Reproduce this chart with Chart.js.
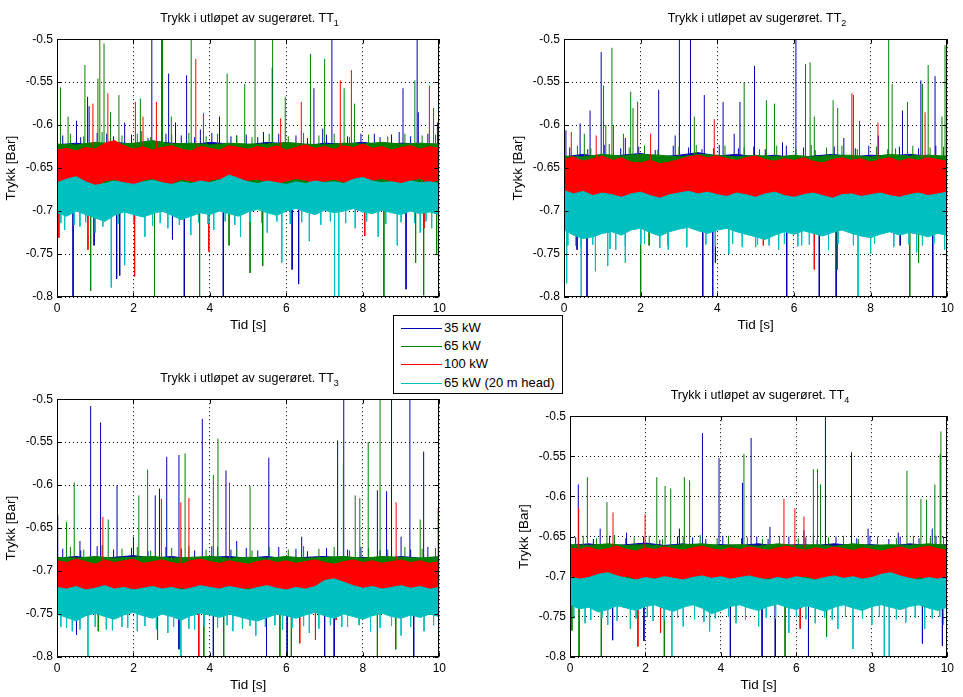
<!DOCTYPE html>
<html>
<head>
<meta charset="utf-8">
<script src="https://cdn.jsdelivr.net/npm/chart.js"></script>
<style>
  body { margin: 0; background: #fff; width: 963px; height: 697px; overflow: hidden; position: relative; font-family: "Liberation Sans", Arial, sans-serif; }
  .panel { position: absolute; }
  .ttl { position: absolute; text-align: center; font-size: 12.5px; line-height: 15px; color: #000; white-space: nowrap; }
  .ttl sub { font-size: 9px; }
  #legend { position: absolute; left: 393px; top: 315px; width: 168px; height: 77px; border: 1px solid #000; background: #fff; }
  .lg-row { position: absolute; left: 0; height: 16px; font-size: 13px; line-height: 16px; }
  .lg-line { position: absolute; left: 7px; top: 8px; width: 41px; height: 1px; }
  .lg-text { position: absolute; left: 50px; top: 0; white-space: nowrap; }
</style>
</head>
<body>
<div class="panel" style="left:0px;top:28px;"><canvas id="p1" width="450" height="307"></canvas></div>
<div class="panel" style="left:507px;top:28px;"><canvas id="p2" width="451" height="307"></canvas></div>
<div class="panel" style="left:0px;top:388px;"><canvas id="p3" width="450" height="307"></canvas></div>
<div class="panel" style="left:513px;top:405px;"><canvas id="p4" width="445" height="290"></canvas></div>

<div class="ttl" style="left:57px;top:11px;width:385px;">Trykk i utløpet av sugerøret. TT<sub>1</sub></div>
<div class="ttl" style="left:564px;top:11px;width:386px;">Trykk i utløpet av sugerøret. TT<sub>2</sub></div>
<div class="ttl" style="left:57px;top:371px;width:385px;">Trykk i utløpet av sugerøret. TT<sub>3</sub></div>
<div class="ttl" style="left:570px;top:388px;width:380px;">Trykk i utløpet av sugerøret. TT<sub>4</sub></div>

<div id="legend"></div>

<script>
// series names / colours (same order as the matlab plot calls)
const seriesNames = ['35 kW', '65 kW', '100 kW', '65 kW (20 m head)'];
const seriesColors = ['#0000b4', '#008000', '#ff0000', '#00bfbf'];

const xTicks = [0, 2, 4, 6, 8, 10];
const yTicks = [-0.8, -0.75, -0.7, -0.65, -0.6, -0.55, -0.5];

// sample times for the band envelopes [s]
const times41 = [0, 0.25, 0.5, 0.75, 1, 1.25, 1.5, 1.75, 2, 2.25, 2.5, 2.75, 3, 3.25, 3.5, 3.75, 4, 4.25, 4.5, 4.75, 5,
    5.25, 5.5, 5.75, 6, 6.25, 6.5, 6.75, 7, 7.25, 7.5, 7.75, 8, 8.25, 8.5, 8.75, 9, 9.25, 9.5, 9.75, 10];
const times21 = [0, 0.5, 1, 1.5, 2, 2.5, 3, 3.5, 4, 4.5, 5, 5.5, 6, 6.5, 7, 7.5, 8, 8.5, 9, 9.5, 10];
const noGrass = [];

// ---------- TT1 ----------
const tt1BlueTop = [-0.623,-0.621,-0.624,-0.620,-0.622,-0.619,-0.621,-0.623,-0.620,-0.622,
    -0.623,-0.620,-0.622,-0.624,-0.621,-0.622,-0.620,-0.623,-0.621,-0.622, -0.623];
const tt1BlueBot = [-0.670,-0.674,-0.671,-0.676,-0.672,-0.670,-0.674,-0.671,-0.673,-0.670,
    -0.672,-0.675,-0.671,-0.673,-0.670,-0.672,-0.674,-0.671,-0.673,-0.670, -0.672];
const tt1GreenTop = [-0.622,-0.623,-0.620,-0.622,-0.621,-0.618,-0.622,-0.621,-0.623,-0.621,
    -0.622,-0.622,-0.620,-0.622,-0.623,-0.621,-0.622,-0.620,-0.622,-0.621, -0.622];
const tt1GreenBot = [-0.672,-0.670,-0.674,-0.671,-0.673,-0.675,-0.671,-0.673,-0.670,-0.672,
    -0.674,-0.671,-0.673,-0.670,-0.672,-0.674,-0.671,-0.673,-0.670,-0.672, -0.671];
const tt1RedTop = [-0.629,-0.627,-0.630,-0.626,-0.628,-0.621,-0.618,-0.624,-0.628,-0.625,
    -0.629,-0.626,-0.624,-0.628,-0.630,-0.625,-0.627,-0.629,-0.624,-0.626,
    -0.628,-0.625,-0.627,-0.624,-0.629,-0.626,-0.623,-0.627,-0.625,-0.628,
    -0.624,-0.626,-0.622,-0.627,-0.625,-0.629,-0.626,-0.624,-0.628,-0.625, -0.627];
const tt1RedBot = [-0.664,-0.666,-0.662,-0.670,-0.672,-0.665,-0.663,-0.667,-0.670,-0.664,
    -0.662,-0.666,-0.668,-0.663,-0.665,-0.667,-0.664,-0.662,-0.666,-0.669,
    -0.664,-0.663,-0.666,-0.668,-0.665,-0.662,-0.664,-0.667,-0.665,-0.663,
    -0.666,-0.670,-0.668,-0.664,-0.662,-0.665,-0.667,-0.664,-0.662,-0.666, -0.664];
const tt1CyanTop = [-0.667,-0.663,-0.660,-0.666,-0.670,-0.668,-0.665,-0.667,-0.669,-0.666,
    -0.664,-0.667,-0.669,-0.666,-0.668,-0.665,-0.667,-0.664,-0.658,-0.662,
    -0.666,-0.668,-0.665,-0.667,-0.669,-0.666,-0.668,-0.665,-0.667,-0.666,
    -0.668,-0.663,-0.661,-0.665,-0.667,-0.666,-0.668,-0.665,-0.667,-0.666, -0.668];
const tt1CyanBot = [-0.702,-0.706,-0.700,-0.704,-0.708,-0.712,-0.705,-0.701,-0.704,-0.707,
    -0.703,-0.700,-0.705,-0.710,-0.706,-0.702,-0.704,-0.700,-0.703,-0.706,
    -0.701,-0.698,-0.702,-0.705,-0.700,-0.697,-0.701,-0.704,-0.699,-0.702,
    -0.700,-0.697,-0.701,-0.703,-0.699,-0.702,-0.704,-0.700,-0.703,-0.701, -0.704];
// spikes: [time, peak value]
const tt1BlueSpikes = [[0.42,-0.8],[0.51,-0.595],[0.80,-0.567],[0.84,-0.578],[0.97,-0.74],[1.30,-0.61],[1.56,-0.779],
    [1.64,-0.775],[1.77,-0.597],[2.20,-0.607],[2.48,-0.5],[2.74,-0.5],[2.92,-0.54],[3.02,-0.733],[3.10,-0.597],
    [3.33,-0.8],[3.39,-0.542],[3.75,-0.605],[4.25,-0.59],[4.35,-0.8],[4.70,-0.612],[5.40,-0.608],[5.63,-0.533],
    [6.15,-0.768],[6.32,-0.785],[6.72,-0.557],[6.95,-0.604],[7.19,-0.5],[8.30,-0.61],[8.95,-0.608],[9.05,-0.557],
    [9.13,-0.791],[9.42,-0.5],[9.45,-0.585],[9.95,-0.597]];
const tt1GreenSpikes = [[0.09,-0.556],[0.29,-0.59],[0.73,-0.53],[0.88,-0.793],[1.07,-0.546],[1.12,-0.5],[1.23,-0.505],
    [1.40,-0.585],[1.62,-0.565],[2.18,-0.569],[2.55,-0.8],[2.76,-0.5],[2.99,-0.59],[3.51,-0.5],[3.73,-0.8],[4.45,-0.54],
    [4.50,-0.74],[4.91,-0.552],[5.05,-0.772],[5.18,-0.5],[5.38,-0.764],[5.64,-0.5],[5.97,-0.567],[6.63,-0.517],
    [7.00,-0.523],[7.51,-0.557],[7.78,-0.575],[8.55,-0.8],[9.36,-0.548],[9.38,-0.76],[9.59,-0.798],[9.85,-0.58],[9.93,-0.75]];
const tt1RedSpikes = [[0.05,-0.731],[0.81,-0.745],[0.94,-0.575],[1.33,-0.563],[2.03,-0.776],[2.05,-0.573],[2.25,-0.59],
    [2.60,-0.573],[3.63,-0.523],[3.83,-0.586],[3.97,-0.747],[5.85,-0.592],[6.39,-0.573],[7.41,-0.548],[7.70,-0.536],
    [8.05,-0.729],[9.60,-0.72],[9.74,-0.554]];
const tt1CyanSpikes = [[0.20,-0.722],[0.60,-0.718],[1.00,-0.725],[1.42,-0.789],[1.77,-0.763],[2.30,-0.73],[2.90,-0.72],
    [3.50,-0.728],[4.10,-0.722],[4.80,-0.73],[5.50,-0.725],[5.88,-0.76],[6.60,-0.735],[7.26,-0.8],[7.37,-0.8],
    [7.80,-0.72],[8.40,-0.73],[8.90,-0.74],[9.50,-0.725],[9.80,-0.72]];
// small spikes along the band edges
const tt1BlueGrass = [[0.15,-0.612],[0.62,-0.614],[1.05,-0.609],[1.48,-0.613],[1.95,-0.611],[2.38,-0.615],[2.85,-0.61],
    [3.25,-0.612],[3.60,-0.614],[4.05,-0.609],[4.55,-0.613],[4.95,-0.611],[5.25,-0.614],[5.80,-0.61],[6.25,-0.612],
    [6.55,-0.615],[7.05,-0.611],[7.60,-0.613],[7.95,-0.61],[8.45,-0.614],[8.75,-0.611],[9.25,-0.613],[9.70,-0.61]];
const tt1GreenGrass = [[0.35,-0.61],[0.70,-0.613],[1.18,-0.608],[1.70,-0.612],[2.10,-0.61],[2.45,-0.614],[3.00,-0.611],
    [3.45,-0.609],[3.90,-0.613],[4.20,-0.61],[4.70,-0.612],[5.10,-0.614],[5.55,-0.61],[6.05,-0.613],[6.45,-0.609],
    [6.85,-0.612],[7.25,-0.61],[7.65,-0.614],[8.15,-0.611],[8.65,-0.613],[9.10,-0.61],[9.55,-0.612],[9.90,-0.611]];
const tt1CyanGrass = [[0.10,-0.714],[0.45,-0.716],[0.75,-0.713],[1.20,-0.718],[1.60,-0.715],[2.00,-0.713],[2.50,-0.717],
    [2.70,-0.714],[3.20,-0.716],[3.70,-0.713],[3.95,-0.715],[4.40,-0.712],[4.65,-0.716],[5.05,-0.713],[5.35,-0.714],
    [5.75,-0.712],[6.10,-0.715],[6.40,-0.713],[6.90,-0.716],[7.15,-0.712],[7.55,-0.714],[8.10,-0.712],[8.60,-0.715],
    [9.00,-0.713],[9.35,-0.714],[9.65,-0.712]];
const tt1Base = [-0.645, -0.645, -0.645, -0.685];

// ---------- TT2 ----------
const tt2BlueTop = [-0.637,-0.634,-0.638,-0.635,-0.633,-0.637,-0.635,-0.632,-0.636,-0.634,
    -0.637,-0.635,-0.638,-0.636,-0.634,-0.637,-0.635,-0.636,-0.634,-0.636, -0.638];
const tt2BlueBot = [-0.683,-0.685,-0.682,-0.686,-0.684,-0.683,-0.685,-0.682,-0.684,-0.683,
    -0.685,-0.686,-0.683,-0.684,-0.682,-0.684,-0.685,-0.683,-0.684,-0.682, -0.684];
const tt2GreenTop = [-0.636,-0.637,-0.634,-0.636,-0.634,-0.635,-0.637,-0.634,-0.635,-0.637,
    -0.635,-0.637,-0.635,-0.637,-0.635,-0.635,-0.637,-0.634,-0.636,-0.635, -0.636];
const tt2GreenBot = [-0.684,-0.683,-0.685,-0.682,-0.684,-0.686,-0.683,-0.685,-0.682,-0.684,
    -0.685,-0.683,-0.684,-0.682,-0.684,-0.685,-0.683,-0.684,-0.682,-0.684, -0.683];
const tt2RedTop = [-0.640,-0.637,-0.642,-0.639,-0.636,-0.641,-0.638,-0.643,-0.644,-0.641,
    -0.645,-0.643,-0.640,-0.637,-0.635,-0.638,-0.636,-0.639,-0.641,-0.638,
    -0.636,-0.640,-0.642,-0.639,-0.641,-0.638,-0.642,-0.644,-0.640,-0.638,
    -0.641,-0.639,-0.643,-0.640,-0.638,-0.642,-0.639,-0.641,-0.638,-0.640, -0.642];
const tt2RedBot = [-0.676,-0.680,-0.678,-0.682,-0.679,-0.684,-0.686,-0.681,-0.678,-0.683,
    -0.687,-0.682,-0.679,-0.677,-0.681,-0.678,-0.680,-0.683,-0.679,-0.681,
    -0.684,-0.680,-0.678,-0.682,-0.685,-0.681,-0.679,-0.683,-0.687,-0.682,
    -0.680,-0.684,-0.681,-0.679,-0.683,-0.686,-0.682,-0.680,-0.684,-0.681, -0.679];
const tt2CyanTop = [-0.676,-0.680,-0.677,-0.682,-0.679,-0.681,-0.684,-0.680,-0.678,-0.682,
    -0.685,-0.681,-0.679,-0.677,-0.680,-0.678,-0.681,-0.683,-0.679,-0.681,
    -0.684,-0.680,-0.678,-0.682,-0.684,-0.681,-0.679,-0.682,-0.685,-0.681,
    -0.680,-0.683,-0.681,-0.679,-0.682,-0.684,-0.681,-0.679,-0.682,-0.680, -0.678];
const tt2CyanBot = [-0.722,-0.728,-0.732,-0.730,-0.726,-0.724,-0.728,-0.722,-0.720,-0.725,
    -0.729,-0.724,-0.721,-0.719,-0.723,-0.726,-0.722,-0.720,-0.724,-0.727,
    -0.730,-0.733,-0.728,-0.724,-0.727,-0.723,-0.726,-0.729,-0.725,-0.722,
    -0.726,-0.729,-0.731,-0.727,-0.724,-0.728,-0.725,-0.727,-0.730,-0.726, -0.728];
const tt2BlueSpikes = [[0.05,-0.606],[0.34,-0.745],[0.42,-0.598],[0.60,-0.8],[0.68,-0.583],[0.97,-0.515],[1.60,-0.615],
    [2.47,-0.559],[2.90,-0.612],[3.01,-0.5],[3.30,-0.5],[3.62,-0.8],[3.66,-0.565],[3.88,-0.8],[3.95,-0.76],[4.15,-0.573],
    [4.44,-0.61],[4.59,-0.573],[4.97,-0.531],[5.70,-0.62],[5.81,-0.8],[6.05,-0.5],[6.66,-0.8],[7.10,-0.8],[7.30,-0.615],
    [8.20,-0.612],[8.77,-0.74],[8.83,-0.583],[9.31,-0.548],[9.62,-0.8],[9.68,-0.543]];
const tt2GreenSpikes = [[0.53,-0.61],[1.03,-0.554],[1.09,-0.6],[1.25,-0.51],[1.55,-0.61],[1.74,-0.561],[1.80,-0.58],
    [2.00,-0.8],[2.22,-0.74],[3.40,-0.59],[4.70,-0.55],[5.28,-0.571],[5.49,-0.575],[6.30,-0.529],[6.42,-0.527],
    [6.53,-0.59],[7.02,-0.571],[7.13,-0.768],[7.14,-0.58],[7.55,-0.565],[7.71,-0.595],[8.47,-0.5],[8.56,-0.552],
    [8.96,-0.573],[9.02,-0.8],[9.25,-0.76],[9.35,-0.552],[9.50,-0.53],[9.86,-0.59],[9.94,-0.507]];
const tt2RedSpikes = [[0.19,-0.608],[0.84,-0.612],[1.29,-0.6],[1.92,-0.573],[2.26,-0.61],[3.92,-0.593],[5.20,-0.74],
    [6.53,-0.768],[7.51,-0.563],[8.19,-0.597],[9.42,-0.585]];
const tt2CyanSpikes = [[0.07,-0.784],[0.30,-0.74],[0.45,-0.8],[0.82,-0.77],[1.14,-0.764],[1.35,-0.745],[1.60,-0.76],
    [2.10,-0.738],[2.72,-0.745],[3.20,-0.742],[4.30,-0.75],[5.00,-0.742],[5.60,-0.745],[6.20,-0.74],[6.90,-0.745],
    [7.67,-0.8],[8.00,-0.75],[8.60,-0.742],[9.20,-0.748],[9.93,-0.745]];
const tt2BlueGrass = [[0.15,-0.626],[0.62,-0.628],[1.05,-0.623],[1.48,-0.627],[1.95,-0.625],[2.38,-0.629],[2.85,-0.624],
    [3.25,-0.626],[3.60,-0.628],[4.05,-0.623],[4.55,-0.627],[4.95,-0.625],[5.25,-0.628],[5.80,-0.624],[6.25,-0.626],
    [6.55,-0.629],[7.05,-0.625],[7.60,-0.627],[7.95,-0.624],[8.45,-0.628],[8.75,-0.625],[9.25,-0.627],[9.70,-0.624]];
const tt2GreenGrass = [[0.35,-0.624],[0.70,-0.627],[1.18,-0.622],[1.70,-0.626],[2.10,-0.624],[2.45,-0.628],[3.00,-0.625],
    [3.45,-0.623],[3.90,-0.627],[4.20,-0.624],[4.70,-0.626],[5.10,-0.628],[5.55,-0.624],[6.05,-0.627],[6.45,-0.623],
    [6.85,-0.626],[7.25,-0.624],[7.65,-0.628],[8.15,-0.625],[8.65,-0.627],[9.10,-0.624],[9.55,-0.626],[9.90,-0.625]];
const tt2CyanGrass = [[0.10,-0.740],[0.45,-0.742],[0.75,-0.739],[1.20,-0.744],[1.60,-0.741],[2.00,-0.739],[2.50,-0.743],
    [2.70,-0.740],[3.20,-0.742],[3.70,-0.739],[3.95,-0.741],[4.40,-0.738],[4.65,-0.742],[5.05,-0.739],[5.35,-0.740],
    [5.75,-0.738],[6.10,-0.741],[6.40,-0.739],[6.90,-0.742],[7.15,-0.738],[7.55,-0.740],[8.10,-0.738],[8.60,-0.741],
    [9.00,-0.739],[9.35,-0.740],[9.65,-0.738]];
const tt2Base = [-0.66, -0.66, -0.66, -0.705];

// ---------- TT3 ----------
const tt3BlueTop = [-0.685,-0.683,-0.686,-0.684,-0.682,-0.685,-0.683,-0.686,-0.684,-0.683,
    -0.685,-0.683,-0.686,-0.684,-0.683,-0.685,-0.684,-0.686,-0.683,-0.685, -0.684];
const tt3BlueBot = [-0.724,-0.728,-0.725,-0.730,-0.726,-0.724,-0.728,-0.725,-0.727,-0.724,
    -0.726,-0.729,-0.725,-0.727,-0.724,-0.726,-0.728,-0.725,-0.727,-0.724, -0.726];
const tt3GreenTop = [-0.684,-0.685,-0.683,-0.685,-0.684,-0.683,-0.685,-0.684,-0.683,-0.685,
    -0.684,-0.685,-0.683,-0.685,-0.684,-0.683,-0.685,-0.683,-0.684,-0.685, -0.683];
const tt3GreenBot = [-0.726,-0.724,-0.728,-0.725,-0.727,-0.729,-0.725,-0.727,-0.724,-0.726,
    -0.728,-0.725,-0.727,-0.724,-0.726,-0.728,-0.725,-0.727,-0.724,-0.726, -0.725];
const tt3RedTop = [-0.688,-0.690,-0.686,-0.689,-0.692,-0.687,-0.690,-0.688,-0.686,-0.691,
    -0.689,-0.687,-0.690,-0.692,-0.688,-0.686,-0.689,-0.691,-0.688,-0.690,
    -0.692,-0.689,-0.687,-0.690,-0.688,-0.691,-0.689,-0.687,-0.690,-0.692,
    -0.689,-0.687,-0.690,-0.688,-0.691,-0.689,-0.687,-0.690,-0.688,-0.691, -0.689];
const tt3RedBot = [-0.720,-0.724,-0.722,-0.726,-0.723,-0.721,-0.725,-0.722,-0.720,-0.724,
    -0.726,-0.723,-0.721,-0.719,-0.723,-0.725,-0.722,-0.720,-0.724,-0.722,
    -0.719,-0.723,-0.725,-0.722,-0.724,-0.726,-0.723,-0.721,-0.719,-0.723,
    -0.725,-0.727,-0.723,-0.721,-0.724,-0.722,-0.720,-0.724,-0.726,-0.723, -0.725];
const tt3CyanTop = [-0.719,-0.721,-0.718,-0.722,-0.720,-0.717,-0.721,-0.719,-0.722,-0.720,
    -0.718,-0.721,-0.719,-0.722,-0.720,-0.717,-0.719,-0.721,-0.718,-0.720,
    -0.722,-0.719,-0.717,-0.720,-0.722,-0.719,-0.721,-0.718,-0.711,-0.709,
    -0.713,-0.717,-0.720,-0.718,-0.721,-0.719,-0.717,-0.720,-0.718,-0.721, -0.719];
const tt3CyanBot = [-0.750,-0.754,-0.758,-0.752,-0.749,-0.753,-0.756,-0.751,-0.748,-0.752,
    -0.755,-0.750,-0.753,-0.757,-0.752,-0.749,-0.751,-0.754,-0.750,-0.753,
    -0.756,-0.758,-0.754,-0.750,-0.752,-0.755,-0.751,-0.748,-0.752,-0.755,
    -0.750,-0.753,-0.756,-0.752,-0.749,-0.753,-0.755,-0.751,-0.754,-0.750, -0.753];
const tt3BlueSpikes = [[0.02,-0.635],[0.51,-0.774],[0.60,-0.665],[0.88,-0.508],[1.14,-0.527],[1.57,-0.6],[2.00,-0.66],
    [2.57,-0.612],[2.68,-0.604],[2.87,-0.567],[3.19,-0.565],[3.19,-0.791],[3.80,-0.523],[4.09,-0.8],[4.42,-0.583],
    [4.70,-0.665],[5.48,-0.8],[5.54,-0.568],[6.02,-0.8],[6.40,-0.66],[7.00,-0.8],[7.25,-0.8],[7.34,-0.548],[7.50,-0.5],
    [8.38,-0.606],[8.62,-0.607],[8.75,-0.5],[9.00,-0.66],[9.23,-0.5],[9.33,-0.8],[9.59,-0.561]];
const tt3GreenSpikes = [[0.25,-0.643],[0.45,-0.597],[1.08,-0.77],[1.34,-0.64],[2.14,-0.612],[2.37,-0.582],[2.63,-0.78],
    [3.35,-0.563],[3.84,-0.8],[4.09,-0.588],[4.21,-0.546],[4.36,-0.8],[5.05,-0.601],[5.83,-0.8],[6.13,-0.8],
    [7.49,-0.575],[7.80,-0.612],[7.92,-0.615],[8.14,-0.55],[8.38,-0.8],[8.45,-0.5],[8.86,-0.791],[9.50,-0.64]];
const tt3RedSpikes = [[1.20,-0.637],[2.73,-0.616],[3.24,-0.62],[3.45,-0.615],[3.71,-0.8],[4.51,-0.597],[6.35,-0.784],
    [6.76,-0.78],[7.30,-0.757],[7.91,-0.76],[8.87,-0.62],[9.97,-0.627]];
const tt3CyanSpikes = [[0.10,-0.765],[0.40,-0.77],[0.81,-0.8],[1.29,-0.768],[1.70,-0.765],[2.10,-0.77],[2.90,-0.772],
    [3.24,-0.8],[3.60,-0.768],[4.60,-0.77],[5.20,-0.775],[5.90,-0.768],[6.60,-0.772],[7.60,-0.765],[8.20,-0.77],
    [9.00,-0.775],[9.60,-0.77]];
const tt3BlueGrass = [[0.15,-0.674],[0.62,-0.676],[1.05,-0.671],[1.48,-0.675],[1.95,-0.673],[2.38,-0.677],[2.85,-0.672],
    [3.25,-0.674],[3.60,-0.676],[4.05,-0.671],[4.55,-0.675],[4.95,-0.673],[5.25,-0.676],[5.80,-0.672],[6.25,-0.674],
    [6.55,-0.677],[7.05,-0.673],[7.60,-0.675],[7.95,-0.672],[8.45,-0.676],[8.75,-0.673],[9.25,-0.675],[9.70,-0.672]];
const tt3GreenGrass = [[0.35,-0.672],[0.70,-0.675],[1.18,-0.670],[1.70,-0.674],[2.10,-0.672],[2.45,-0.676],[3.00,-0.673],
    [3.45,-0.671],[3.90,-0.675],[4.20,-0.672],[4.70,-0.674],[5.10,-0.676],[5.55,-0.672],[6.05,-0.675],[6.45,-0.671],
    [6.85,-0.674],[7.25,-0.672],[7.65,-0.676],[8.15,-0.673],[8.65,-0.675],[9.10,-0.672],[9.55,-0.674],[9.90,-0.673]];
const tt3CyanGrass = [[0.25,-0.766],[0.60,-0.768],[1.00,-0.765],[1.45,-0.769],[1.85,-0.766],[2.30,-0.764],[2.60,-0.768],
    [3.05,-0.765],[3.45,-0.767],[3.85,-0.764],[4.20,-0.766],[4.45,-0.763],[4.85,-0.767],[5.05,-0.764],[5.45,-0.765],
    [5.70,-0.763],[6.15,-0.766],[6.45,-0.764],[6.85,-0.767],[7.15,-0.763],[7.45,-0.765],[7.90,-0.763],[8.45,-0.766],
    [8.75,-0.764],[9.25,-0.765],[9.85,-0.763]];
const tt3Base = [-0.703, -0.703, -0.703, -0.74];

// ---------- TT4 ----------
const tt4BlueTop = [-0.661,-0.659,-0.662,-0.660,-0.658,-0.661,-0.659,-0.662,-0.660,-0.661,
    -0.659,-0.662,-0.660,-0.661,-0.659,-0.661,-0.660,-0.662,-0.659,-0.661, -0.660];
const tt4BlueBot = [-0.708,-0.712,-0.709,-0.714,-0.710,-0.708,-0.712,-0.709,-0.711,-0.708,
    -0.710,-0.713,-0.709,-0.711,-0.708,-0.710,-0.712,-0.709,-0.711,-0.708, -0.710];
const tt4GreenTop = [-0.660,-0.661,-0.659,-0.661,-0.660,-0.662,-0.660,-0.659,-0.661,-0.660,
    -0.662,-0.659,-0.661,-0.660,-0.662,-0.659,-0.661,-0.660,-0.661,-0.659, -0.661];
const tt4GreenBot = [-0.710,-0.708,-0.712,-0.709,-0.711,-0.713,-0.709,-0.711,-0.708,-0.710,
    -0.712,-0.709,-0.711,-0.708,-0.710,-0.712,-0.709,-0.711,-0.708,-0.710, -0.709];
const tt4RedTop = [-0.664,-0.666,-0.663,-0.667,-0.665,-0.662,-0.666,-0.668,-0.664,-0.666,
    -0.663,-0.665,-0.667,-0.664,-0.662,-0.665,-0.667,-0.664,-0.666,-0.663,
    -0.665,-0.667,-0.664,-0.662,-0.665,-0.667,-0.664,-0.666,-0.663,-0.665,
    -0.667,-0.664,-0.666,-0.668,-0.665,-0.663,-0.666,-0.664,-0.662,-0.665, -0.667];
const tt4RedBot = [-0.702,-0.705,-0.700,-0.704,-0.707,-0.702,-0.699,-0.703,-0.706,-0.701,
    -0.704,-0.708,-0.703,-0.700,-0.704,-0.706,-0.702,-0.705,-0.700,-0.703,
    -0.706,-0.701,-0.704,-0.707,-0.702,-0.699,-0.703,-0.706,-0.701,-0.704,
    -0.708,-0.703,-0.700,-0.704,-0.706,-0.702,-0.705,-0.700,-0.703,-0.706, -0.702];
const tt4CyanTop = [-0.700,-0.703,-0.701,-0.697,-0.695,-0.699,-0.702,-0.704,-0.701,-0.703,
    -0.700,-0.702,-0.704,-0.701,-0.699,-0.702,-0.700,-0.703,-0.701,-0.699,
    -0.702,-0.704,-0.701,-0.703,-0.700,-0.702,-0.704,-0.701,-0.699,-0.702,
    -0.700,-0.703,-0.701,-0.697,-0.695,-0.699,-0.702,-0.704,-0.701,-0.703, -0.700];
const tt4CyanBot = [-0.735,-0.740,-0.738,-0.744,-0.741,-0.736,-0.739,-0.742,-0.737,-0.735,
    -0.740,-0.743,-0.738,-0.735,-0.739,-0.746,-0.742,-0.737,-0.735,-0.739,
    -0.742,-0.737,-0.734,-0.738,-0.741,-0.736,-0.739,-0.743,-0.738,-0.735,
    -0.739,-0.742,-0.737,-0.735,-0.738,-0.741,-0.737,-0.735,-0.739,-0.742, -0.738];
const tt4BlueSpikes = [[0.22,-0.585],[0.80,-0.64],[1.13,-0.779],[1.50,-0.645],[1.96,-0.78],[2.90,-0.64],[3.51,-0.521],
    [3.95,-0.552],[4.25,-0.8],[4.57,-0.583],[4.80,-0.527],[5.09,-0.8],[5.30,-0.638],[5.44,-0.8],[6.20,-0.642],
    [6.32,-0.8],[6.77,-0.5],[7.46,-0.545],[7.90,-0.64],[8.70,-0.645],[9.34,-0.783],[9.60,-0.64],[9.87,-0.786]];
const tt4GreenSpikes = [[0.05,-0.767],[0.24,-0.8],[0.46,-0.576],[0.83,-0.8],[0.98,-0.607],[2.30,-0.576],[2.50,-0.8],
    [2.52,-0.587],[2.67,-0.59],[3.03,-0.576],[3.17,-0.58],[4.61,-0.547],[5.70,-0.8],[6.45,-0.566],[6.56,-0.566],
    [6.64,-0.585],[6.80,-0.775],[8.93,-0.568],[9.30,-0.603],[9.45,-0.604],[9.67,-0.585],[9.81,-0.547],[9.83,-0.519]];
const tt4RedSpikes = [[0.23,-0.614],[1.14,-0.62],[1.80,-0.787],[1.99,-0.622],[2.40,-0.77],[5.67,-0.603],[5.96,-0.615],
    [6.10,-0.765],[6.20,-0.625]];
const tt4CyanSpikes = [[0.40,-0.758],[1.00,-0.76],[1.60,-0.765],[2.20,-0.755],[2.70,-0.8],[3.00,-0.762],[3.70,-0.768],
    [4.40,-0.758],[5.00,-0.762],[5.80,-0.77],[6.50,-0.758],[7.10,-0.765],[7.50,-0.79],[8.00,-0.76],[8.33,-0.8],
    [8.46,-0.8],[8.90,-0.757],[9.40,-0.765],[9.90,-0.76]];
const tt4BlueGrass = [[0.15,-0.651],[0.62,-0.653],[1.05,-0.649],[1.48,-0.652],[1.95,-0.650],[2.38,-0.654],[2.85,-0.650],
    [3.25,-0.651],[3.60,-0.653],[4.05,-0.649],[4.55,-0.652],[4.95,-0.650],[5.25,-0.653],[5.80,-0.650],[6.25,-0.651],
    [6.55,-0.654],[7.05,-0.650],[7.60,-0.652],[7.95,-0.649],[8.45,-0.653],[8.75,-0.650],[9.25,-0.652],[9.70,-0.649]];
const tt4GreenGrass = [[0.35,-0.649],[0.70,-0.652],[1.18,-0.648],[1.70,-0.651],[2.10,-0.649],[2.45,-0.653],[3.00,-0.650],
    [3.45,-0.648],[3.90,-0.652],[4.20,-0.649],[4.70,-0.651],[5.10,-0.653],[5.55,-0.649],[6.05,-0.652],[6.45,-0.648],
    [6.85,-0.651],[7.25,-0.649],[7.65,-0.653],[8.15,-0.650],[8.65,-0.652],[9.10,-0.649],[9.55,-0.651],[9.90,-0.650]];
const tt4CyanGrass = [[0.10,-0.752],[0.55,-0.754],[0.85,-0.751],[1.25,-0.755],[1.75,-0.752],[2.05,-0.750],[2.50,-0.754],
    [2.85,-0.751],[3.30,-0.753],[3.55,-0.756],[3.85,-0.752],[4.20,-0.750],[4.65,-0.754],[5.20,-0.751],[5.45,-0.752],
    [6.00,-0.750],[6.25,-0.753],[6.75,-0.751],[6.95,-0.754],[7.30,-0.750],[7.75,-0.752],[8.20,-0.750],[8.65,-0.753],
    [9.15,-0.751],[9.60,-0.752],[9.80,-0.750]];
const tt4Base = [-0.684, -0.684, -0.684, -0.72];

// per panel: [top, bottom, spikes, small spikes] for each series
const panels = [
    { id: 'p1', base: tt1Base, series: [
        [tt1BlueTop, tt1BlueBot, tt1BlueSpikes, tt1BlueGrass], [tt1GreenTop, tt1GreenBot, tt1GreenSpikes, tt1GreenGrass],
        [tt1RedTop, tt1RedBot, tt1RedSpikes, noGrass], [tt1CyanTop, tt1CyanBot, tt1CyanSpikes, tt1CyanGrass]] },
    { id: 'p2', base: tt2Base, series: [
        [tt2BlueTop, tt2BlueBot, tt2BlueSpikes, tt2BlueGrass], [tt2GreenTop, tt2GreenBot, tt2GreenSpikes, tt2GreenGrass],
        [tt2RedTop, tt2RedBot, tt2RedSpikes, noGrass], [tt2CyanTop, tt2CyanBot, tt2CyanSpikes, tt2CyanGrass]] },
    { id: 'p3', base: tt3Base, series: [
        [tt3BlueTop, tt3BlueBot, tt3BlueSpikes, tt3BlueGrass], [tt3GreenTop, tt3GreenBot, tt3GreenSpikes, tt3GreenGrass],
        [tt3RedTop, tt3RedBot, tt3RedSpikes, noGrass], [tt3CyanTop, tt3CyanBot, tt3CyanSpikes, tt3CyanGrass]] },
    { id: 'p4', base: tt4Base, series: [
        [tt4BlueTop, tt4BlueBot, tt4BlueSpikes, tt4BlueGrass], [tt4GreenTop, tt4GreenBot, tt4GreenSpikes, tt4GreenGrass],
        [tt4RedTop, tt4RedBot, tt4RedSpikes, noGrass], [tt4CyanTop, tt4CyanBot, tt4CyanSpikes, tt4CyanGrass]] },
];

Chart.defaults.font.family = '"Liberation Sans", Arial, Helvetica, sans-serif';
Chart.defaults.color = '#000';

// matlab style box + inward ticks
const boxPlugin = {
    id: 'box',
    afterDraw(chart) {
        const ctx = chart.ctx;
        const a = chart.chartArea;
        const l = Math.round(a.left) + 0.5, r = Math.round(a.right) - 0.5;
        const t = Math.round(a.top) + 0.5, b = Math.round(a.bottom) - 0.5;
        ctx.save();
        ctx.strokeStyle = '#000';
        ctx.lineWidth = 1;
        ctx.strokeRect(l, t, r - l, b - t);
        ctx.beginPath();
        xTicks.forEach(v => {
            const px = Math.round(chart.scales.x.getPixelForValue(v)) + 0.5;
            ctx.moveTo(px, b); ctx.lineTo(px, b - 4);
            ctx.moveTo(px, t); ctx.lineTo(px, t + 4);
        });
        yTicks.forEach(v => {
            const py = Math.round(chart.scales.y.getPixelForValue(v)) + 0.5;
            ctx.moveTo(l, py); ctx.lineTo(l + 4, py);
            ctx.moveTo(r, py); ctx.lineTo(r - 4, py);
        });
        ctx.stroke();
        ctx.restore();
    }
};

function bandSets(top, bot, color, order) {
    let times = top.length === times41.length ? times41 : times21;
    return [
        {
            data: times.map((t, i) => ({ x: t, y: top[i] })),
            borderColor: color, backgroundColor: color, borderWidth: 1,
            pointRadius: 0, tension: 0, fill: '+1', order: order
        },
        {
            data: times.map((t, i) => ({ x: t, y: bot[i] })),
            borderColor: color, borderWidth: 1,
            pointRadius: 0, tension: 0, fill: false, order: order
        }
    ];
}

function spikeSet(spikes, base, color, order) {
    let pts = [];
    spikes.forEach(s => {
        pts.push({ x: s[0], y: base }, { x: s[0], y: s[1] }, { x: s[0], y: null });
    });
    return {
        data: pts, borderColor: color, borderWidth: 1, pointRadius: 0,
        tension: 0, fill: false, spanGaps: false, order: order
    };
}

function draw_panel(p) {
    let datasets = [];
    p.series.forEach((s, k) => {
        // cyan is plotted last in matlab, so it ends up on top
        let order = 3 - k;
        datasets.push(...bandSets(s[0], s[1], seriesColors[k], order));
        datasets.push(spikeSet(s[2].concat(s[3]), p.base[k], seriesColors[k], order));
    });
    new Chart(document.getElementById(p.id), {
        type: 'line',
        data: { datasets: datasets },
        plugins: [boxPlugin],
        options: {
            responsive: false,
            animation: false,
            events: [],
            layout: { padding: { left: 0, right: 8, top: 10, bottom: 0 } },
            plugins: { legend: { display: false }, tooltip: { enabled: false } },
            scales: {
                x: {
                    type: 'linear', min: 0, max: 10,
                    afterBuildTicks: s => { s.ticks = xTicks.map(v => ({ value: v })); },
                    afterFit: s => { s.height = 38; },
                    ticks: { font: { size: 12 }, color: '#000', padding: 4, maxRotation: 0, autoSkip: false, callback: v => String(v) },
                    grid: { color: '#000', lineWidth: 1, drawTicks: false },
                    border: { display: false, dash: [1, 3] },
                    title: { display: true, text: 'Tid [s]', font: { size: 13.5 }, color: '#000', padding: { top: 0, bottom: 2 } }
                },
                y: {
                    type: 'linear', min: -0.8, max: -0.5,
                    afterBuildTicks: s => { s.ticks = yTicks.map(v => ({ value: v })); },
                    afterFit: s => { s.width = 57; },
                    ticks: { font: { size: 12 }, color: '#000', padding: 4, autoSkip: false, callback: v => String(v) },
                    grid: { color: '#000', lineWidth: 1, drawTicks: false },
                    border: { display: false, dash: [1, 3] },
                    title: { display: true, text: 'Trykk [Bar]', font: { size: 13.5 }, color: '#000', padding: { top: 3, bottom: 0 } }
                }
            }
        }
    });
}

panels.forEach(p => draw_panel(p));

// shared legend box in the middle of the figure
let legend = document.getElementById('legend');
let rowTops = [4, 22, 40, 59];
seriesNames.forEach((name, i) => {
    let row = document.createElement('div');
    row.className = 'lg-row';
    row.style.top = rowTops[i] + 'px';
    row.innerHTML = `<div class="lg-line" style="background:${seriesColors[i]}"></div><div class="lg-text">${name}</div>`;
    legend.appendChild(row);
});
</script>
</body>
</html>
